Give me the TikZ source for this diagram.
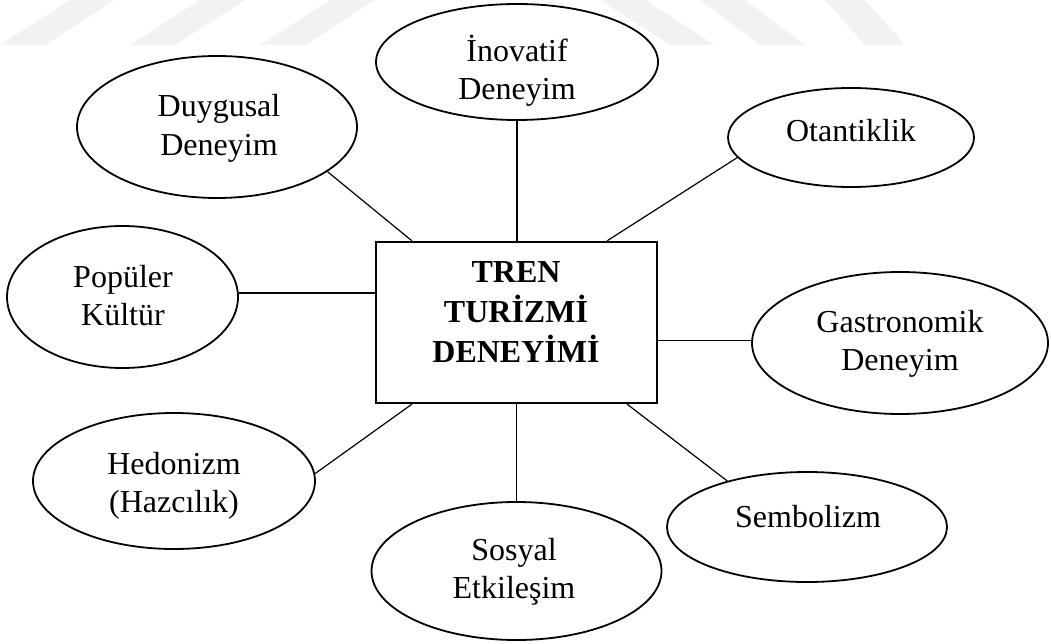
\documentclass[tikz,border=0pt]{standalone}
\usepackage{fontspec}
\setmainfont{Liberation Serif}
\usetikzlibrary{shapes.geometric,calc}
\begin{document}
\begin{tikzpicture}[x=1pt,y=-1pt,
  bubble/.style={draw, ellipse, line width=1.8pt, inner sep=0pt},
  core/.style={draw, rectangle, line width=2.2pt, inner sep=0pt},
  lbl/.style={align=center, inner sep=0pt, font=\fontsize{32}{38.5}\selectfont},
  corelbl/.style={align=center, inner sep=0pt, font=\fontsize{32}{40}\selectfont\bfseries},
  link/.style={line width=1.2pt},
  stripe/.style={fill=black!5, draw=none}]
\useasboundingbox (0,0) rectangle (1051,644);

% faint diagonal bands along the top edge
\fill[stripe] (70,0) -- (115,0) -- (45,45) -- (0,45) -- cycle;
\fill[stripe] (200,0) -- (245,0) -- (175,45) -- (130,45) -- cycle;
\fill[stripe] (330,0) -- (375,0) -- (305,45) -- (260,45) -- cycle;
\fill[stripe] (600,0) -- (645,0) -- (715,45) -- (670,45) -- cycle;
\fill[stripe] (700,0) -- (745,0) -- (805,45) -- (760,45) -- cycle;
\fill[stripe] (825,0) -- (865,0) -- (905,45) -- (865,45) -- cycle;

% central concept
\node[core, fill=white, minimum width=281pt, minimum height=161pt] (box) at (516.5,322.5) {};

% surrounding experience dimensions
\node[bubble, fill=white, minimum width=282pt, minimum height=116pt] (ino) at (517,62) {};
\node[bubble, fill=white, minimum width=280pt, minimum height=142pt] (duy) at (217,127) {};
\node[bubble, fill=white, minimum width=246pt, minimum height=99pt] (ota) at (851,137.5) {};
\node[bubble, fill=white, minimum width=231pt, minimum height=142pt] (pop) at (122.5,297) {};
\node[bubble, fill=white, minimum width=296pt, minimum height=142pt] (gas) at (900,343) {};
\node[bubble, fill=white, minimum width=282pt, minimum height=136pt] (hed) at (174,481) {};
\node[bubble, fill=white, minimum width=280pt, minimum height=110pt] (sem) at (807,527) {};
\node[bubble, fill=white, minimum width=290pt, minimum height=138pt] (sos) at (516.5,571) {};

% labels
\node[corelbl] (boxT) at (516,312.4) {TREN\\TURİZMİ\\DENEYİMİ};
\node[lbl] (inoT) at (517,71) {İnovatif\\Deneyim};
\node[lbl] (duyT) at (219,128.5) {Duygusal\\Deneyim};
\node[lbl] (otaT) at (851,131) {Otantiklik};
\node[lbl] (popT) at (123,295.6) {Popüler\\Kültür};
\node[lbl] (gasT) at (900,344) {Gastronomik\\Deneyim};
\node[lbl] (hedT) at (174,486) {Hedonizm\\(Hazcılık)};
\node[lbl] (semT) at (808,517) {Sembolizm};
\node[lbl] (sosT) at (514,572) {Sosyal\\Etkileşim};

% connectors
\draw[link] (ino.south) -- (ino.south |- box.north);
\draw[link] (duy.-22.2) -- ([xshift=-104.5pt]box.north);
\draw[link] (ota.190.7) -- ([xshift=90.5pt]box.north);
\draw[link] (pop.2) -- (pop.2 -| box.west);
\draw[link] (gas.179.2) -- (gas.179.2 -| box.east);
\draw[link] (hed.3.3) -- ([xshift=-104.5pt]box.south);
\draw[link] (sem.150.6) -- ([xshift=110.5pt]box.south);
\draw[link] (box.south) -- (box.south |- sos.north);
\end{tikzpicture}
\end{document}
